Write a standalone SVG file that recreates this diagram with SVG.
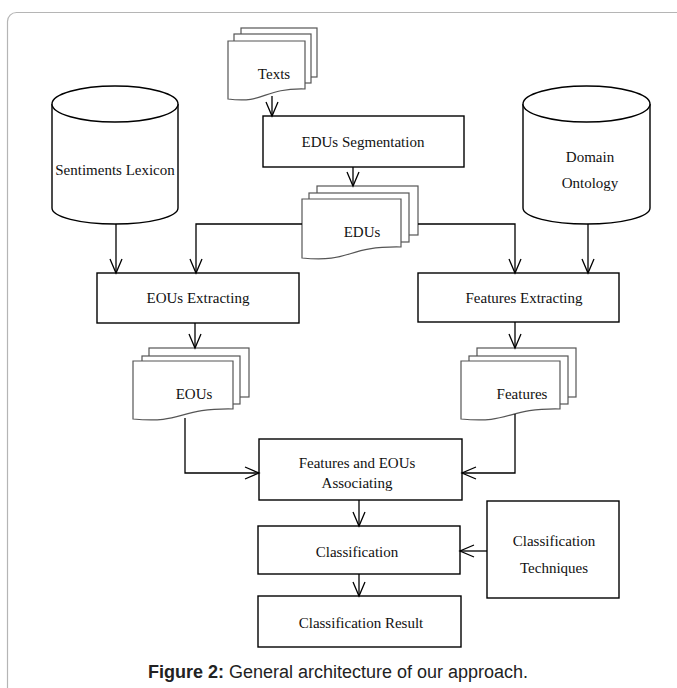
<svg xmlns="http://www.w3.org/2000/svg" width="677" height="688" viewBox="0 0 677 688">
<defs>
<style>
.box{fill:#fff;stroke:#000;stroke-width:1.4}
.cyl{fill:#fff;stroke:#000;stroke-width:1.4}
.doc{fill:#fff;stroke:#555;stroke-width:1.2}
.t{font-family:"Liberation Serif","Times New Roman",serif;font-size:15px;fill:#111;text-anchor:middle}
.con{fill:none;stroke:#000;stroke-width:1.3}
.cap{font-family:"Liberation Sans",Arial,sans-serif;font-size:18px;fill:#222;text-anchor:middle}
</style>
<marker id="arr" markerUnits="userSpaceOnUse" markerWidth="18" markerHeight="16" refX="15" refY="7" orient="auto" overflow="visible">
<path d="M1,1 L15,7 L1,13" fill="none" stroke="#000" stroke-width="1.3"/>
</marker>
</defs>
<rect x="0" y="0" width="677" height="688" fill="#fff"/>
<rect x="7.5" y="12.5" width="690" height="700" rx="9" ry="9" fill="none" stroke="#b5b5b5" stroke-width="1.2"/>

<g id="texts">
<rect class="doc" x="241" y="28" width="76" height="49"/>
<rect class="doc" x="234" y="34" width="77" height="49"/>
<path class="doc" d="M228,41 H305 V89 C262,88 266,104 228,99 Z"/>
<text class="t" x="274" y="79">Texts</text>
</g>

<g id="edus-seg">
<rect class="box" x="263" y="116" width="201" height="51"/>
<text class="t" x="363" y="147">EDUs Segmentation</text>
</g>

<g id="edus">
<rect class="doc" x="317" y="186" width="101" height="49"/>
<rect class="doc" x="309" y="193" width="100" height="49"/>
<path class="doc" d="M302,199 H401 V247 C345,246 352,263 302,258 Z"/>
<text class="t" x="362" y="237">EDUs</text>
</g>

<g id="sentiments">
<path class="cyl" d="M52,104 V208 A63,16 0 0 0 178,208 V104"/>
<ellipse class="cyl" cx="115" cy="104" rx="63" ry="18"/>
<text class="t" x="115" y="175">Sentiments Lexicon</text>
</g>

<g id="domain">
<path class="cyl" d="M523,104 V208 A63.5,16 0 0 0 650,208 V104"/>
<ellipse class="cyl" cx="586.5" cy="104" rx="63.5" ry="18"/>
<text class="t" x="590" y="162">Domain</text>
<text class="t" x="590" y="188">Ontology</text>
</g>

<g id="eous-ext">
<rect class="box" x="97" y="273" width="202" height="50"/>
<text class="t" x="198" y="303">EOUs Extracting</text>
</g>

<g id="features-ext">
<rect class="box" x="418" y="273" width="201" height="49"/>
<text class="t" x="524" y="303">Features Extracting</text>
</g>

<g id="eous">
<rect class="doc" x="149" y="348" width="100" height="49"/>
<rect class="doc" x="142" y="356" width="98" height="48"/>
<path class="doc" d="M133,361 H233 V409 C177,408 184,424 133,419 Z"/>
<text class="t" x="194" y="399">EOUs</text>
</g>

<g id="features">
<rect class="doc" x="477" y="348" width="99" height="49"/>
<rect class="doc" x="469" y="356" width="99" height="48"/>
<path class="doc" d="M461,361 H560 V409 C505,408 512,424 461,419 Z"/>
<text class="t" x="522" y="399">Features</text>
</g>

<g id="assoc">
<rect class="box" x="259" y="439" width="203" height="61"/>
<text class="t" x="357" y="468">Features and EOUs</text>
<text class="t" x="357" y="488">Associating</text>
</g>

<g id="classification">
<rect class="box" x="258" y="526" width="202" height="48"/>
<text class="t" x="357" y="557">Classification</text>
</g>

<g id="techniques">
<rect class="box" x="487" y="501" width="132" height="97"/>
<text class="t" x="554" y="546">Classification</text>
<text class="t" x="554" y="573">Techniques</text>
</g>

<g id="result">
<rect class="box" x="258" y="596" width="203" height="51"/>
<text class="t" x="361" y="628">Classification Result</text>
</g>

<g id="connectors">
<path class="con" d="M272,96 V116" marker-end="url(#arr)"/>
<path class="con" d="M353,167 V186" marker-end="url(#arr)"/>
<path class="con" d="M302,224 H196 V273" marker-end="url(#arr)"/>
<path class="con" d="M418,224 H515 V273" marker-end="url(#arr)"/>
<path class="con" d="M116,224 V273" marker-end="url(#arr)"/>
<path class="con" d="M588,224 V273" marker-end="url(#arr)"/>
<path class="con" d="M195,323 V348" marker-end="url(#arr)"/>
<path class="con" d="M515,322 V348" marker-end="url(#arr)"/>
<path class="con" d="M185,418 V473 H259" marker-end="url(#arr)"/>
<path class="con" d="M515,414 V473 H462" marker-end="url(#arr)"/>
<path class="con" d="M359,500 V526" marker-end="url(#arr)"/>
<path class="con" d="M487,551 H460" marker-end="url(#arr)"/>
<path class="con" d="M359,574 V596" marker-end="url(#arr)"/>
</g>

<text class="cap" x="338" y="678"><tspan font-weight="bold">Figure 2:</tspan> General architecture of our approach.</text>
</svg>
